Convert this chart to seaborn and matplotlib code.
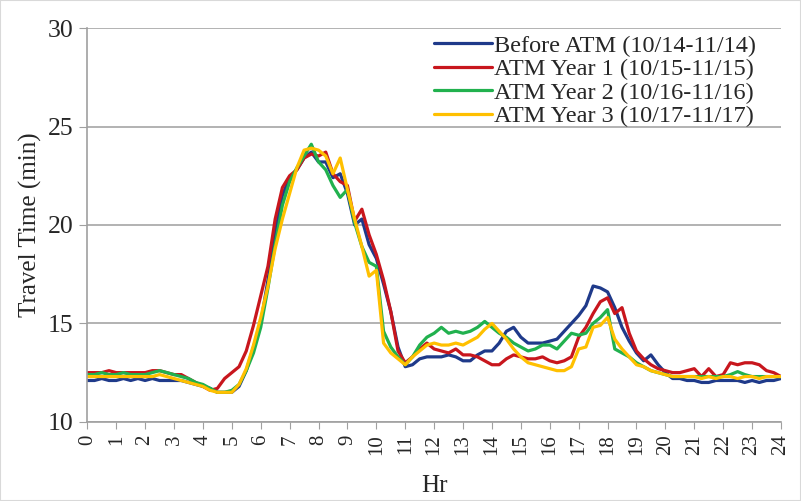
import matplotlib
matplotlib.use("Agg")
import matplotlib.pyplot as plt
import seaborn as sns
import pandas as pd
from matplotlib.patches import Rectangle

# time of day in 15-minute steps (hours)
hours = [i / 4 for i in range(97)]

before_atm = [
    12.1, 12.1, 12.2, 12.1, 12.1, 12.2, 12.1, 12.2, 12.1, 12.2, 12.1, 12.1,
    12.1, 12.1, 12.0, 11.9, 11.8, 11.7, 11.5, 11.5, 11.5, 11.8, 12.6, 13.8,
    15.0, 17.2, 19.6, 21.5, 22.4, 22.8, 23.4, 23.7, 23.2, 23.2, 22.4, 22.6,
    21.6, 20.0, 20.3, 19.0, 18.3, 17.0, 15.6, 13.8, 12.8, 12.9, 13.2, 13.3,
    13.3, 13.3, 13.4, 13.3, 13.1, 13.1, 13.4, 13.6, 13.6, 14.0, 14.6, 14.8,
    14.3, 14.0, 14.0, 14.0, 14.1, 14.2, 14.6, 15.0, 15.4, 15.9, 16.9, 16.8,
    16.6, 15.8, 14.8, 14.1, 13.5, 13.1, 13.4, 12.9, 12.5, 12.2, 12.2, 12.1,
    12.1, 12.0, 12.0, 12.1, 12.1, 12.1, 12.1, 12.0, 12.1, 12.0, 12.1, 12.1,
    12.2,
]
atm_year1 = [
    12.5, 12.5, 12.5, 12.6, 12.5, 12.5, 12.5, 12.5, 12.5, 12.6, 12.6, 12.5,
    12.4, 12.4, 12.2, 12.0, 11.8, 11.6, 11.7, 12.2, 12.5, 12.8, 13.6, 14.9,
    16.4, 17.9, 20.3, 21.9, 22.5, 22.8, 23.4, 23.6, 23.5, 23.7, 22.6, 22.2,
    22.0, 20.2, 20.8, 19.5, 18.5, 17.2, 15.6, 13.6, 13.0, 13.3, 13.7, 14.0,
    13.7, 13.6, 13.5, 13.7, 13.4, 13.4, 13.3, 13.1, 12.9, 12.9, 13.2, 13.4,
    13.3, 13.2, 13.2, 13.3, 13.1, 13.0, 13.1, 13.3, 14.3, 14.8, 15.5, 16.1,
    16.3, 15.5, 15.8, 14.5, 13.6, 13.2, 12.9, 12.7, 12.6, 12.5, 12.5, 12.6,
    12.7, 12.3, 12.7, 12.3, 12.4, 13.0, 12.9, 13.0, 13.0, 12.9, 12.6, 12.5,
    12.3,
]
atm_year2 = [
    12.4, 12.4, 12.5, 12.4, 12.4, 12.5, 12.4, 12.4, 12.4, 12.5, 12.6, 12.5,
    12.4, 12.3, 12.2, 12.0, 11.9, 11.7, 11.5, 11.5, 11.6, 11.9, 12.6, 13.5,
    14.8, 16.8, 19.0, 21.0, 22.2, 22.9, 23.5, 24.1, 23.2, 22.8, 22.0, 21.4,
    21.8, 20.1, 18.9, 18.1, 17.9, 14.6, 13.8, 13.3, 12.9, 13.3, 13.9, 14.3,
    14.5, 14.8, 14.5, 14.6, 14.5, 14.6, 14.8, 15.1, 14.8, 14.5, 14.3, 14.0,
    13.8, 13.6, 13.7, 13.9, 13.9, 13.7, 14.1, 14.5, 14.4, 14.5, 15.0, 15.3,
    15.7, 13.7, 13.5, 13.3, 13.0, 12.8, 12.6, 12.5, 12.4, 12.3, 12.3, 12.3,
    12.3, 12.3, 12.3, 12.3, 12.3, 12.4, 12.55, 12.4, 12.3, 12.3, 12.3, 12.3,
    12.3,
]
atm_year3 = [
    12.3, 12.3, 12.3, 12.3, 12.3, 12.3, 12.3, 12.3, 12.3, 12.3, 12.4, 12.3,
    12.2, 12.1, 12.0, 11.9, 11.8, 11.6, 11.5, 11.5, 11.5, 11.9, 12.7, 13.9,
    15.3, 16.9, 18.8, 20.3, 21.6, 22.9, 23.8, 23.9, 23.8, 23.5, 22.6, 23.4,
    21.8, 20.3, 18.9, 17.4, 17.7, 14.0, 13.5, 13.2, 12.9, 13.3, 13.6, 13.9,
    14.0, 13.9, 13.9, 14.0, 13.9, 14.1, 14.3, 14.7, 15.0, 14.6, 14.2, 13.7,
    13.3, 13.0, 12.9, 12.8, 12.7, 12.6, 12.6, 12.8, 13.7, 13.8, 14.8, 14.9,
    15.3, 14.2, 13.7, 13.3, 12.9, 12.8, 12.6, 12.5, 12.4, 12.3, 12.3, 12.3,
    12.3, 12.2, 12.3, 12.2, 12.3, 12.3, 12.2, 12.3, 12.3, 12.2, 12.3, 12.3,
    12.3,
]

labels = ["Before ATM (10/14-11/14)", "ATM Year 1 (10/15-11/15)",
          "ATM Year 2 (10/16-11/16)", "ATM Year 3 (10/17-11/17)"]
colors = ["#1f3a8a", "#c8161d", "#21b14e", "#ffc000"]

frames = []
for lab, vals in zip(labels, [before_atm, atm_year1, atm_year2, atm_year3]):
    frames.append(pd.DataFrame({"Hr": hours, "Travel Time": vals, "Period": lab}))
df = pd.concat(frames, ignore_index=True)

sns.set_style("white")
plt.rcParams["font.family"] = ["Liberation Serif", "DejaVu Serif"]

fig = plt.figure(figsize=(8.01, 5.01), dpi=100)
ax = fig.add_axes([0.109, 0.158, 0.866, 0.786])

sns.lineplot(data=df, x="Hr", y="Travel Time", hue="Period", hue_order=labels,
             palette=colors, linewidth=2.3, ax=ax)

ax.set_xlim(0, 24)
ax.set_ylim(10, 30)
ax.set_xticks(range(25))
ax.set_xticklabels([str(h) for h in range(25)], rotation=90, fontsize=15)
ax.set_yticks([10, 15, 20, 25, 30])
ax.tick_params(axis="y", labelsize=18.5, length=6, color="#a0a0a0", direction="out", left=True, pad=4)
ax.tick_params(axis="x", length=5, color="#a0a0a0", direction="out", bottom=True, pad=4)
ax.yaxis.grid(True, color="#a6a6a6", linewidth=1.2)
ax.set_axisbelow(True)
for side in ["top", "right"]:
    ax.spines[side].set_visible(False)
for side in ["left", "bottom"]:
    ax.spines[side].set_color("#a0a0a0")
    ax.spines[side].set_linewidth(1.2)

ax.set_xlabel("Hr", fontsize=18, labelpad=14)
ax.set_ylabel("Travel Time (min)", fontsize=18, labelpad=4)

ax.legend(loc="upper right", bbox_to_anchor=(0.985, 1.02), frameon=False,
          fontsize=17.5, handlelength=2.35, handletextpad=0.1, labelspacing=0.06,
          borderaxespad=0.2)

fig.patches.append(Rectangle((0, 0), 1, 1, transform=fig.transFigure, fill=False,
                             edgecolor="#d9d9d9", linewidth=1.5))

fig.savefig("out.png", dpi=100)
